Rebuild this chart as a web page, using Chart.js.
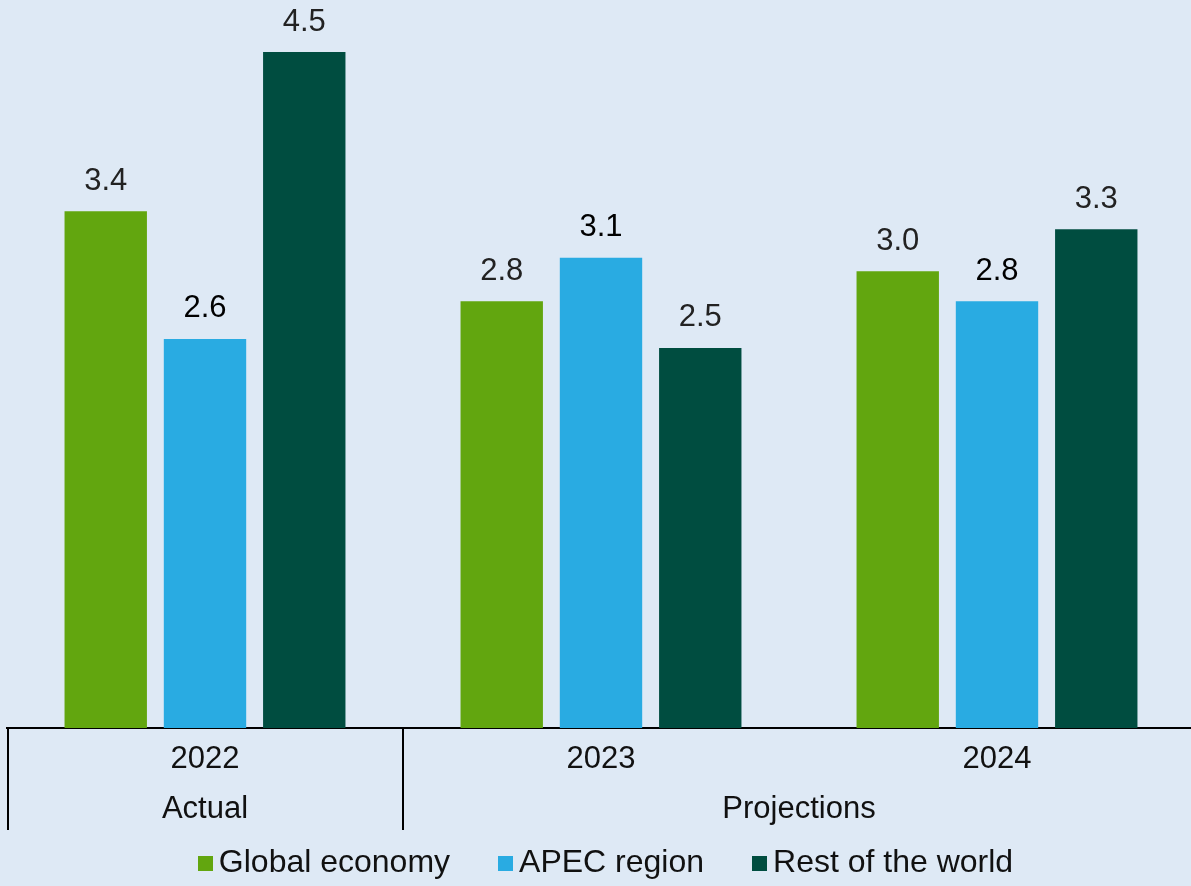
<!DOCTYPE html>
<html>
<head>
<meta charset="utf-8">
<script src="https://cdn.jsdelivr.net/npm/chart.js@4/dist/chart.umd.min.js"></script>
<style>
  html, body { margin: 0; padding: 0; background: #dee9f5; overflow: hidden; }
  #wrap { position: relative; width: 1191px; height: 886px; overflow: hidden; }
  #legend { position: absolute; left: 0; top: 843px; width: 1191px; display: flex; justify-content: center;
    padding-left: 20px; box-sizing: border-box; font-family: "Liberation Sans", Arial, sans-serif; font-size: 32px; color: #111; }
  .item { display: flex; align-items: center; margin-right: 48px; }
  .item:last-child { margin-right: 0; }
  .box { width: 15px; height: 15px; margin-right: 6px; margin-top: 3px; }
</style>
</head>
<body>
<div id="wrap">
  <canvas id="growthChart" width="1195" height="886"></canvas>
  <div id="legend"></div>
</div>
<script>
const years = ['2022', '2023', '2024'];
const periods = ['Actual', 'Projections'];
const periodSpans = [[0, 0], [1, 2]];
const globalEconomy = [3.44, 2.84, 3.04];
const apecRegion = [2.59, 3.13, 2.84];
const restOfWorld = [4.5, 2.53, 3.32];
const seriesNames = ['Global economy', 'APEC region', 'Rest of the world'];
const colors = ['#62a60f', '#29abe2', '#004d40'];

const FONT = '"Liberation Sans", Arial, sans-serif';

// value labels above bars
const barLabels = {
    id: 'barLabels',
    afterDatasetsDraw(chart) {
        const ctx = chart.ctx;
        ctx.save();
        ctx.font = '31px ' + FONT;
        ctx.textAlign = 'center';
        ctx.textBaseline = 'middle';
        chart.data.datasets.forEach((ds, i) => {
            chart.getDatasetMeta(i).data.forEach((bar, j) => {
                ctx.fillStyle = i === 1 ? '#000' : '#222';
                ctx.fillText(ds.data[j].toFixed(1), bar.x, bar.y - 30);
            });
        });
        ctx.restore();
    }
};

// second row of the category axis: period names and separators
const periodAxis = {
    id: 'periodAxis',
    afterDraw(chart) {
        const ctx = chart.ctx;
        const x = chart.scales.x;
        const area = chart.chartArea;
        const top = area.bottom;
        ctx.save();
        ctx.strokeStyle = '#000';
        ctx.lineWidth = 2;
        ctx.beginPath();
        ctx.moveTo(area.left + 1, top);
        ctx.lineTo(area.left + 1, 830);
        const mid = (x.getPixelForValue(0) + x.getPixelForValue(1)) / 2;
        ctx.moveTo(mid, top);
        ctx.lineTo(mid, 830);
        ctx.stroke();

        ctx.font = '31px ' + FONT;
        ctx.fillStyle = '#111';
        ctx.textAlign = 'center';
        ctx.textBaseline = 'middle';
        periods.forEach((p, i) => {
            const a = x.getPixelForValue(periodSpans[i][0]);
            const b = x.getPixelForValue(periodSpans[i][1]);
            ctx.fillText(p, (a + b) / 2, 809);
        });
        ctx.restore();
    }
};

const ctx = document.getElementById('growthChart').getContext('2d');
const chart = new Chart(ctx, {
    type: 'bar',
    data: {
        labels: years,
        datasets: [globalEconomy, apecRegion, restOfWorld].map((d, i) => ({
            label: seriesNames[i],
            data: d,
            backgroundColor: colors[i],
            categoryPercentage: 0.752,
            barPercentage: 0.83
        }))
    },
    options: {
        responsive: false,
        animation: false,
        layout: { padding: { left: 7, right: 0, top: 0, bottom: 0 } },
        plugins: {
            legend: { display: false },
            tooltip: { enabled: false }
        },
        scales: {
            x: {
                grid: { display: false, drawTicks: false },
                border: { display: true, color: '#000', width: 2 },
                ticks: { color: '#111', font: { family: FONT, size: 31 }, padding: 13 },
                afterFit(scale) { scale.height = 158; }
            },
            y: {
                display: false,
                min: 0,
                max: 4.846
            }
        }
    },
    plugins: [barLabels, periodAxis]
});

const legendDiv = document.getElementById('legend');
seriesNames.forEach((name, i) => {
    legendDiv.innerHTML += `<div class="item"><div class="box" style="background:${colors[i]}"></div><span>${name}</span></div>`;
});
</script>
</body>
</html>
